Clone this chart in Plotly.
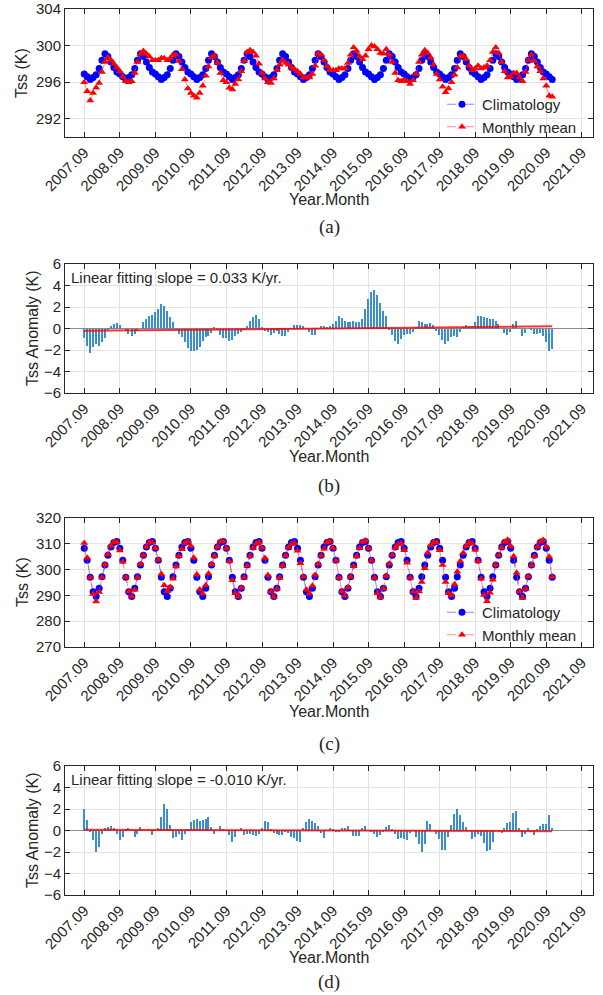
import numpy as np
import pandas as pd
import plotly.graph_objects as go

# ---------------- data ----------------
start_month = "2007-09-01"
n_months = 159
tick_years = list(range(2007, 2022))
tick_labels = [f"{y}.09" for y in tick_years]

# climatology by calendar month, Sep..Aug
clim_a = [296.9, 296.6, 296.3, 296.5, 296.8, 297.5, 298.4, 299.1, 298.8, 298.2, 297.6, 297.1]
clim_c = [308.3, 303.6, 297.0, 291.4, 289.6, 292.8, 297.2, 301.8, 305.6, 308.8, 310.5, 310.9]

monthly_a = [
    296.0, 295.0, 294.0, 294.8, 295.4, 295.9, 297.1, 298.2, 298.7, 298.4, 298.0, 297.6,
    297.2, 296.6, 296.1, 296.0, 296.1, 297.0, 298.2, 299.1, 299.4, 299.1, 298.8, 298.4,
    298.4, 298.4, 298.6, 298.6, 298.4, 298.6, 299.0, 299.0, 298.3, 297.4, 296.3, 295.3,
    294.8, 294.5, 294.3, 294.8, 295.6, 296.7, 297.7, 298.7, 298.9, 298.1, 297.0, 296.2,
    296.0, 295.4, 295.2, 295.8, 296.3, 297.2, 298.3, 299.3, 299.5, 299.3, 298.9, 298.0,
    297.0, 296.4, 296.0, 295.9, 296.4, 297.3, 297.9, 298.4, 298.1, 297.9, 297.6, 297.4,
    297.2, 296.9, 296.5, 296.5, 296.5, 296.9, 297.8, 299.1, 299.0, 298.4, 297.7, 297.3,
    297.3, 297.3, 297.5, 297.5, 297.5, 298.1, 299.0, 299.8, 299.4, 298.8, 298.5, 298.9,
    299.6, 300.0, 299.9, 299.6, 299.2, 299.1, 299.6, 299.0, 298.2, 297.0, 296.2, 296.1,
    296.3, 296.1, 295.8, 296.2, 296.9, 298.2, 299.0, 299.5, 299.2, 298.7, 297.9, 296.9,
    296.3, 295.5, 294.9, 295.3, 296.0, 296.8, 297.6, 298.8, 298.9, 298.5, 297.8, 297.3,
    297.5, 297.8, 297.5, 297.6, 297.8, 298.4, 299.3, 299.8, 299.2, 298.2, 297.2, 296.5,
    296.6, 297.0, 297.0, 296.5, 296.1, 297.1, 298.4, 299.0, 298.3, 297.7, 297.2, 296.4,
    295.6, 294.5, 294.4,
]

anom_b = [
    -0.9, -1.6, -2.3, -1.7, -1.4, -1.6, -1.3, -0.9, -0.1, 0.2, 0.4, 0.5,
    0.3, 0.0, -0.2, -0.5, -0.7, -0.5, -0.2, 0.0, 0.6, 0.9, 1.2, 1.3,
    1.5, 1.8, 2.3, 2.1, 1.6, 1.1, 0.6, -0.1, -0.5, -0.8, -1.3, -1.8,
    -2.1, -2.1, -2.0, -1.7, -1.2, -0.8, -0.7, -0.4, 0.1, -0.1, -0.6, -0.9,
    -0.9, -1.2, -1.1, -0.7, -0.5, -0.3, -0.1, 0.2, 0.7, 1.1, 1.3, 0.9,
    0.1, -0.2, -0.3, -0.6, -0.4, -0.2, -0.5, -0.7, -0.7, -0.3, 0.0, 0.3,
    0.3, 0.3, 0.2, 0.0, -0.3, -0.6, -0.6, 0.0, 0.2, 0.2, 0.1, 0.2,
    0.4, 0.7, 1.2, 1.0, 0.7, 0.6, 0.6, 0.7, 0.6, 0.6, 0.9, 1.8,
    2.7, 3.4, 3.6, 3.1, 2.4, 1.6, 1.2, -0.1, -0.6, -1.2, -1.4, -1.0,
    -0.6, -0.5, -0.5, -0.3, 0.1, 0.7, 0.6, 0.4, 0.4, 0.5, 0.3, -0.2,
    -0.6, -1.1, -1.4, -1.2, -0.8, -0.7, -0.8, -0.3, 0.1, 0.3, 0.2, 0.2,
    0.6, 1.2, 1.2, 1.1, 1.0, 0.9, 0.9, 0.7, 0.4, 0.0, -0.4, -0.6,
    -0.3, 0.4, 0.7, 0.0, -0.7, -0.4, 0.0, -0.1, -0.5, -0.5, -0.4, -0.7,
    -1.3, -2.1, -1.9,
]

monthly_c = [
    310.3, 304.6, 296.9, 290.5, 287.6, 291.3, 296.9, 302.0, 305.9, 309.2, 310.7, 310.6,
    307.4, 303.0, 297.1, 291.6, 289.6, 292.2, 296.9, 302.1, 305.6, 308.8, 310.5, 310.5,
    308.3, 303.8, 298.3, 293.9, 291.6, 293.3, 296.5, 301.2, 305.3, 307.9, 310.2, 311.0,
    309.1, 304.6, 298.1, 292.3, 290.6, 293.9, 298.5, 302.1, 305.3, 308.8, 310.9, 311.0,
    308.3, 303.2, 295.9, 290.8, 289.6, 293.0, 296.8, 301.5, 305.3, 308.4, 310.0, 310.6,
    308.5, 304.5, 297.8, 291.5, 289.4, 292.5, 296.8, 301.4, 305.5, 308.6, 309.9, 310.2,
    307.3, 302.5, 297.2, 292.2, 290.7, 293.7, 297.9, 302.2, 305.4, 308.1, 310.5, 311.1,
    308.4, 303.5, 296.9, 291.6, 289.8, 293.2, 297.2, 301.3, 305.1, 308.3, 310.7, 311.3,
    308.3, 303.5, 296.7, 290.8, 289.2, 292.7, 297.5, 302.3, 305.7, 308.5, 309.7, 310.2,
    307.5, 302.7, 296.8, 291.4, 289.0, 291.5, 295.2, 300.5, 306.5, 309.4, 310.5, 310.6,
    307.5, 301.8, 295.2, 290.8, 290.1, 294.3, 299.2, 303.2, 306.4, 309.1, 310.5, 310.1,
    307.7, 303.3, 296.5, 290.2, 287.7, 291.0, 296.1, 301.8, 305.6, 308.6, 310.7, 311.6,
    309.1, 305.2, 298.8, 291.6, 289.0, 292.5, 297.4, 301.7, 305.2, 308.9, 310.9, 311.5,
    308.9, 305.0, 297.2,
]

anom_d = [
    2.0, 1.0, -0.1, -0.9, -2.0, -1.5, -0.3, 0.2, 0.3, 0.4, 0.2, -0.3,
    -0.9, -0.6, 0.1, 0.2, 0.0, -0.6, -0.3, 0.3, 0.0, 0.0, 0.0, -0.4,
    0.0, 0.2, 1.3, 2.5, 2.0, 0.5, -0.7, -0.6, -0.3, -0.9, -0.3, 0.1,
    0.8, 1.0, 1.1, 0.9, 1.0, 1.1, 1.3, 0.3, -0.3, 0.0, 0.4, 0.1,
    0.0, -0.4, -1.1, -0.6, 0.0, 0.2, -0.4, -0.3, -0.3, -0.4, -0.5, -0.3,
    0.2, 0.9, 0.8, 0.1, -0.2, -0.3, -0.4, -0.4, -0.1, -0.2, -0.6, -0.7,
    -1.0, -1.1, 0.2, 0.8, 1.1, 0.9, 0.7, 0.4, -0.2, -0.7, 0.0, 0.2,
    0.1, -0.1, -0.1, 0.2, 0.2, 0.4, 0.0, -0.5, -0.5, -0.5, 0.2, 0.4,
    0.0, -0.1, -0.3, -0.6, -0.4, -0.1, 0.3, 0.5, 0.1, -0.3, -0.8, -0.7,
    -0.8, -0.9, -0.2, 0.0, -0.6, -1.3, -2.0, -1.3, 0.9, 0.6, 0.0, -0.3,
    -0.8, -1.8, -1.8, -0.6, 0.5, 1.5, 2.0, 1.4, 0.8, 0.3, 0.0, -0.8,
    -0.6, -0.3, -0.5, -1.2, -1.9, -1.8, -1.1, 0.0, 0.0, -0.2, 0.2, 0.7,
    0.8, 1.6, 1.8, 0.2, -0.6, -0.3, 0.2, -0.1, -0.4, 0.1, 0.4, 0.6,
    0.6, 1.4, 0.2,
]

trend_b = [-0.22, 0.21]   # fitted line at first / last month
trend_d = [0.07, -0.06]
slope_text_b = "Linear fitting slope = 0.033 K/yr."
slope_text_d = "Linear fitting slope = -0.010 K/yr."

# ---------------- build ----------------
dates = pd.date_range(start_month, periods=n_months, freq="MS")
clim_a_series = [clim_a[i % 12] for i in range(n_months)]
clim_c_series = [clim_c[i % 12] for i in range(n_months)]
tick_dates = [f"{y}-09-01" for y in tick_years]
trend_x = [dates[0], dates[-1]]

W, H = 603, 995
X0, X1 = 65, 593
panels = {  # top, bottom pixel of plot areas
    "a": (9, 137), "b": (264, 393), "c": (518, 647), "d": (766, 895)
}
def ydom(p):
    t, b = panels[p]
    return [1 - b / H, 1 - t / H]

FONT = "Liberation Sans, Arial, Helvetica, sans-serif"
TXT = "#262626"
GRID = "#e3e3e3"
BLUE = "#0000ff"
RED = "#ff0000"
BAR = "#3b8fd1"

fig = go.Figure()

# panel a
fig.add_trace(go.Scatter(x=dates, y=clim_a_series, mode="lines+markers", name="Climatology",
                         line=dict(color="rgba(60,60,255,0.75)", width=0.8, dash="dash"),
                         marker=dict(symbol="circle", size=7, color=BLUE),
                         xaxis="x", yaxis="y", legend="legend"))
fig.add_trace(go.Scatter(x=dates, y=monthly_a, mode="lines+markers", name="Monthly mean",
                         line=dict(color="rgba(255,60,60,0.75)", width=0.8, dash="dash"),
                         marker=dict(symbol="triangle-up", size=7, color=RED),
                         xaxis="x", yaxis="y", legend="legend"))
# panel b
fig.add_trace(go.Bar(x=dates, y=anom_b, marker=dict(color=BAR, line=dict(width=0)),
                     width=1.3e9, showlegend=False, xaxis="x2", yaxis="y2"))
fig.add_trace(go.Scatter(x=trend_x, y=trend_b, mode="lines", line=dict(color=RED, width=2),
                         opacity=0.8, showlegend=False, xaxis="x2", yaxis="y2"))
# panel c
fig.add_trace(go.Scatter(x=dates, y=clim_c_series, mode="lines+markers", name="Climatology",
                         line=dict(color="rgba(60,60,255,0.75)", width=0.8, dash="dash"),
                         marker=dict(symbol="circle", size=7, color=BLUE),
                         xaxis="x3", yaxis="y3", legend="legend2"))
fig.add_trace(go.Scatter(x=dates, y=monthly_c, mode="lines+markers", name="Monthly mean",
                         line=dict(color="rgba(255,60,60,0.75)", width=0.8, dash="dash"),
                         marker=dict(symbol="triangle-up", size=7, color=RED),
                         xaxis="x3", yaxis="y3", legend="legend2"))
# panel d
fig.add_trace(go.Bar(x=dates, y=anom_d, marker=dict(color=BAR, line=dict(width=0)),
                     width=1.3e9, showlegend=False, xaxis="x4", yaxis="y4"))
fig.add_trace(go.Scatter(x=trend_x, y=trend_d, mode="lines", line=dict(color=RED, width=2),
                         opacity=0.8, showlegend=False, xaxis="x4", yaxis="y4"))

tickfont = dict(family=FONT, size=15, color=TXT)

def xax(anchor):
    return dict(domain=[X0 / W, X1 / W], anchor=anchor, type="date", automargin=False,
                range=["2007-02-15", "2021-12-25"],
                tickmode="array", tickvals=tick_dates, ticktext=tick_labels, tickangle=-45,
                ticks="inside", ticklen=5, tickcolor=TXT, showline=True, linecolor=TXT,
                linewidth=1, mirror="ticks", showgrid=True, gridcolor=GRID, gridwidth=1,
                zeroline=False, tickfont=tickfont)

def yax(anchor, p, rng, dtick, zero=False):
    return dict(domain=ydom(p), anchor=anchor, range=rng, dtick=dtick, tick0=0,
                automargin=False,
                ticks="inside", ticklen=5, tickcolor=TXT, showline=True, linecolor=TXT,
                linewidth=1, mirror="ticks", showgrid=True, gridcolor=GRID, gridwidth=1,
                zeroline=zero, zerolinecolor="#8a8a8a", zerolinewidth=1.2, tickfont=tickfont)

annotations = []
def ann(text, xp, yp, size=15, angle=0, family=FONT, xanchor="center"):
    annotations.append(dict(text=text, x=xp / W, y=1 - yp / H, xref="paper", yref="paper",
                            showarrow=False, textangle=angle, xanchor=xanchor, yanchor="middle",
                            font=dict(family=family, size=size, color=TXT)))

cx = (X0 + X1) / 2
ann("Tss (K)", 22, 73, size=16, angle=-90)
ann("Tss Anomaly (K)", 32, 328, size=16, angle=-90)
ann("Tss (K)", 22, 582, size=16, angle=-90)
ann("Tss Anomaly (K)", 32, 830, size=16, angle=-90)
for yp in (200, 456, 711, 957):
    ann("Year.Month", cx, yp, size=16)
SERIF = "Liberation Serif, Times New Roman, serif"
for lab, yp in (("(a)", 227), ("(b)", 486), ("(c)", 744), ("(d)", 982)):
    ann(lab, cx, yp, size=19, family=SERIF)
ann(slope_text_b, 69, 277, size=15, xanchor="left")
ann(slope_text_d, 69, 779, size=15, xanchor="left")

legend_style = dict(xanchor="left", yanchor="top", bgcolor="rgba(0,0,0,0)",
                    font=dict(family=FONT, size=15, color=TXT), itemwidth=30,
                    tracegroupgap=0)

fig.update_layout(
    width=W, height=H, margin=dict(l=0, r=0, t=0, b=0, autoexpand=False),
    paper_bgcolor="white", plot_bgcolor="white",
    font=dict(family=FONT, color=TXT),
    xaxis=xax("y"), yaxis=yax("x", "a", [290, 304], 4),
    xaxis2=xax("y2"), yaxis2=yax("x2", "b", [-6, 6], 2, zero=True),
    xaxis3=xax("y3"), yaxis3=yax("x3", "c", [270, 320], 10),
    xaxis4=xax("y4"), yaxis4=yax("x4", "d", [-6, 6], 2, zero=True),
    legend=dict(x=442 / W, y=1 - 88 / H, **legend_style),
    legend2=dict(x=442 / W, y=1 - 596 / H, **legend_style),
    annotations=annotations,
    bargap=0,
)

fig.write_html("out.html", config={"displayModeBar": False},
               post_script="document.body.style.margin='0';document.body.style.overflow='hidden';")
